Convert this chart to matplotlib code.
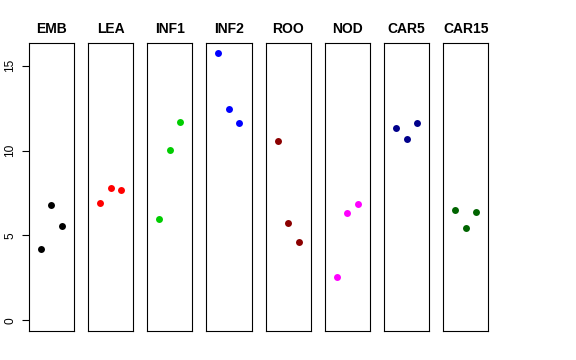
import numpy as np
import matplotlib.pyplot as plt

plt.rcParams['font.family'] = ['Liberation Sans', 'DejaVu Sans']

tissues = ['EMB', 'LEA', 'INF1', 'INF2', 'ROO', 'NOD', 'CAR5', 'CAR15']
colors = ['black', '#FF0000', '#00CD00', '#0000FF', '#8B0000', '#FF00FF', '#00008B', '#006400']
values = {
    'EMB':   [4.21, 6.78, 5.56],
    'LEA':   [6.94, 7.79, 7.65],
    'INF1':  [5.98, 10.05, 11.66],
    'INF2':  [15.73, 12.43, 11.64],
    'ROO':   [10.58, 5.74, 4.60],
    'NOD':   [2.57, 6.35, 6.84],
    'CAR5':  [11.35, 10.70, 11.64],
    'CAR15': [6.49, 5.43, 6.37],
}
reps = [1, 2, 3]
yticks = [0, 5, 10, 15]

W, H = 576, 360
fig = plt.figure(figsize=(W / 100, H / 100), dpi=100)

ymax = max(max(v) for v in values.values())
pad = 0.04 * ymax
top, bottom = 42.7, 331.0
for i, (t, c) in enumerate(zip(tissues, colors)):
    left = 28.7 + i * 59.2
    ax = fig.add_axes([left / W, (H - bottom) / H, 45.3 / W, (bottom - top) / H])
    ax.plot(reps, values[t], 'o', color=c, markersize=5, markeredgewidth=0)
    ax.set_xlim(-0.16, 4.16)
    ax.set_ylim(-pad, ymax + pad)
    ax.set_xticks([])
    for s in ax.spines.values():
        s.set_linewidth(0.8)
    if i == 0:
        ax.set_yticks(yticks)
        ax.set_yticklabels([str(v) for v in yticks], rotation=90, va='center', fontsize=8.6)
        ax.tick_params(axis='y', length=5, width=0.8, pad=4)
    else:
        ax.set_yticks([])
    ax.set_title(t, fontsize=10, fontweight='bold', pad=7)

fig.savefig('out.png', dpi=100)
